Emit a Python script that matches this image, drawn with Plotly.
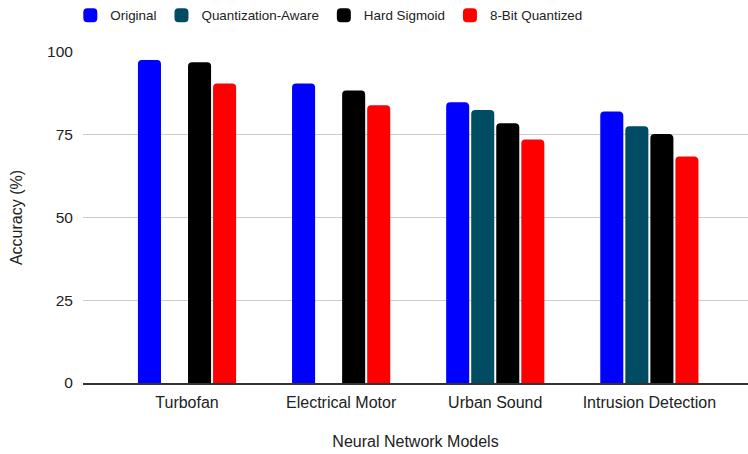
import plotly.graph_objects as go

categories = ["Turbofan", "Electrical Motor", "Urban Sound", "Intrusion Detection"]
original = [97.3, 90.2, 84.5, 81.7]
quant_aware = [None, None, 82.2, 77.3]
hard_sigmoid = [96.6, 88.1, 78.2, 74.9]
bit8_quant = [90.2, 83.6, 73.3, 68.1]
y_ticks = [0, 25, 50, 75, 100]

series = [
    ("Original", original, "#0000ff"),
    ("Quantization-Aware", quant_aware, "#004c63"),
    ("Hard Sigmoid", hard_sigmoid, "#000000"),
    ("8-Bit Quantized", bit8_quant, "#ff0000"),
]

fig = go.Figure()
for name, vals, color in series:
    fig.add_trace(go.Bar(x=categories, y=vals, name=name, marker_color=color,
                         marker_line=dict(width=2, color=color)))

FONT = "Liberation Sans, Arial, sans-serif"
fig.update_layout(
    width=748, height=454,
    margin=dict(l=83, r=0, t=52, b=71),
    paper_bgcolor="white", plot_bgcolor="white",
    barmode="group", bargap=0.35, bargroupgap=0.16,
    barcornerradius=3,
    font=dict(family=FONT, size=16, color="#222222"),
    legend=dict(orientation="h", xref="container", yref="container",
                x=0.094, xanchor="left", y=1.0, yanchor="top",
                font=dict(size=13.4, color="#222222"),
                itemclick=False),
    xaxis=dict(range=[-0.675, 3.64], showgrid=False, showline=True,
               linecolor="#333333", linewidth=2,
               ticks="outside", ticklen=4, tickcolor="rgba(0,0,0,0)",
               tickfont=dict(size=16, color="#222222"),
               title=dict(text="Neural Network Models", standoff=26,
                          font=dict(size=16, color="#222222"))),
    yaxis=dict(range=[0, 100], tickvals=y_ticks, showgrid=True,
               gridcolor="#cccccc", gridwidth=1, zeroline=False,
               ticks="outside", ticklen=6, tickcolor="rgba(0,0,0,0)",
               tickfont=dict(size=15.5, color="#222222"),
               title=dict(text="Accuracy (%)", standoff=20,
                          font=dict(size=16, color="#222222"))),
)

fig.write_html("out.html")
